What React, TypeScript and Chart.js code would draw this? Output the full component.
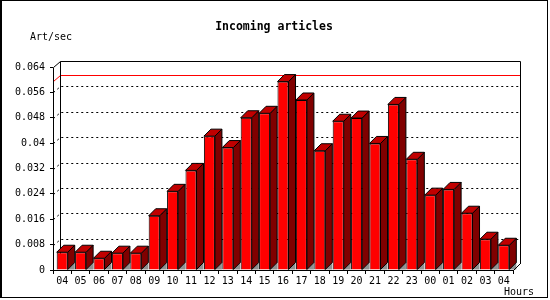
import React, { useEffect, useRef } from "react";
import { Chart, registerables } from "chart.js";

Chart.register(...registerables);

const hours = ["04","05","06","07","08","09","10","11","12","13","14","15","16","17","18","19","20","21","22","23","00","01","02","03","04"];
const artPerSec = [0.0056,0.0056,0.0037,0.0053,0.0053,0.0171,0.0248,0.0314,0.0422,0.0386,0.0480,0.0494,0.0594,0.0536,0.0376,0.0469,0.0479,0.0399,0.0522,0.0349,0.0236,0.0254,0.0179,0.0097,0.0078];
const yTicks = [0,0.008,0.016,0.024,0.032,0.04,0.048,0.056,0.064];
const yTickLabels = ["0","0.008","0.016","0.024","0.032","0.04","0.048","0.056","0.064"];
const peakLine = 0.0596;
const titleText = "Incoming articles";
const yTitle = "Art/sec";
const xTitle = "Hours";

const MONO = "'DejaVu Sans Mono', monospace";
const BDX = 7, BDY = 7; // bar depth
const PDX = 7, PDY = 6; // back plane offset

const threeD = {
  id: "threeD",
  beforeDatasetsDraw(chart: any) {
    const ctx = chart.ctx;
    const y = chart.scales.y;
    const ca = chart.chartArea;
    const L = Math.round(ca.left), R = Math.round(ca.right), B = Math.round(ca.bottom);
    ctx.save();
    ctx.lineWidth = 1;
    ctx.strokeStyle = "#000";
    ctx.setLineDash([2, 3]);
    for (let i = 1; i < yTicks.length - 1; i++) {
      const fy = Math.round(y.getPixelForValue(yTicks[i])) + 0.5;
      ctx.beginPath();
      ctx.moveTo(L + 0.5, fy);
      ctx.lineTo(L + PDX + 0.5, fy - PDY);
      ctx.lineTo(R + PDX, fy - PDY);
      ctx.stroke();
    }
    ctx.setLineDash([]);
    const py = Math.round(y.getPixelForValue(peakLine)) + 0.5;
    ctx.strokeStyle = "#ff0000";
    ctx.beginPath();
    ctx.moveTo(L + 0.5, py);
    ctx.lineTo(L + PDX + 0.5, py - PDY);
    ctx.lineTo(R + PDX, py - PDY);
    ctx.stroke();
    const ty = Math.round(y.getPixelForValue(yTicks[yTicks.length - 1])) + 0.5;
    ctx.strokeStyle = "#000";
    ctx.beginPath();
    ctx.moveTo(L + PDX + 0.5, B - PDY);
    ctx.lineTo(L + PDX + 0.5, ty - PDY);
    ctx.lineTo(R + PDX + 0.5, ty - PDY);
    ctx.lineTo(R + PDX + 0.5, B - PDY);
    ctx.stroke();
    ctx.beginPath();
    ctx.moveTo(L + 0.5, B + 0.5);
    ctx.lineTo(L + 0.5, ty);
    ctx.lineTo(L + PDX + 0.5, ty - PDY);
    ctx.stroke();
    ctx.restore();
  },
  afterDatasetsDraw(chart: any) {
    const ctx = chart.ctx;
    const meta = chart.getDatasetMeta(0);
    const ca = chart.chartArea;
    const L = Math.round(ca.left), R = Math.round(ca.right), B = Math.round(ca.bottom);
    ctx.save();
    ctx.lineWidth = 1;
    ctx.strokeStyle = "#000";
    meta.data.forEach((bar: any) => {
      const { x, y, width, base } = bar.getProps(["x", "y", "width", "base"], true);
      const l = x - width / 2, r = x + width / 2;
      ctx.fillStyle = "#909090";
      ctx.beginPath();
      ctx.moveTo(r, base);
      ctx.lineTo(r + BDX, base - BDY);
      ctx.lineTo(r + BDX, base);
      ctx.closePath();
      ctx.fill();
      ctx.fillStyle = "#800000";
      ctx.beginPath();
      ctx.moveTo(r, y);
      ctx.lineTo(r + BDX, y - BDY);
      ctx.lineTo(r + BDX, base - BDY);
      ctx.lineTo(r, base);
      ctx.closePath();
      ctx.fill();
      ctx.stroke();
      ctx.fillStyle = "#c00000";
      ctx.beginPath();
      ctx.moveTo(l, y);
      ctx.lineTo(l + BDX, y - BDY);
      ctx.lineTo(r + BDX, y - BDY);
      ctx.lineTo(r, y);
      ctx.closePath();
      ctx.fill();
      ctx.stroke();
    });
    ctx.beginPath();
    ctx.moveTo(L, B + 0.5);
    ctx.lineTo(R + 0.5, B + 0.5);
    ctx.lineTo(R + PDX + 0.5, B - PDY - 0.5);
    ctx.stroke();
    ctx.restore();
  },
  afterDraw(chart: any) {
    const ctx = chart.ctx;
    ctx.save();
    ctx.fillStyle = "#000";
    ctx.textBaseline = "middle";
    ctx.font = `bold 11.5px ${MONO}`;
    ctx.textAlign = "center";
    ctx.fillText(titleText, 274, 27);
    ctx.font = `10px ${MONO}`;
    ctx.textAlign = "left";
    ctx.fillText(yTitle, 30, 37);
    ctx.textAlign = "right";
    ctx.fillText(xTitle, 534, 292);
    ctx.strokeStyle = "#000";
    ctx.lineWidth = 1;
    ctx.strokeRect(0.5, 0.5, 547, 297);
    ctx.fillRect(0, 0, 2, 298);
    ctx.restore();
  },
};

export default function App() {
  const ref = useRef<HTMLCanvasElement>(null);
  useEffect(() => {
    if (!ref.current) return;
    const chart = new Chart(ref.current, {
      type: "bar",
      data: {
        labels: hours,
        datasets: [
          {
            data: artPerSec,
            backgroundColor: "#ff0000",
            borderColor: "#000000",
            borderWidth: 1,
            barPercentage: 0.6,
            categoryPercentage: 1,
          },
        ],
      },
      options: {
        animation: false,
        responsive: false,
        devicePixelRatio: 1,
        layout: { padding: { left: 0, top: 67, right: 37, bottom: 0 } },
        plugins: { legend: { display: false }, tooltip: { enabled: false }, title: { display: false } },
        scales: {
          x: {
            type: "category",
            offset: true,
            grid: { display: true, drawOnChartArea: false, drawTicks: true, tickLength: 4, offset: true, color: "#000" },
            border: { display: false },
            ticks: { autoSkip: false, maxRotation: 0, color: "#000", padding: 1, font: { family: MONO, size: 10 } },
            afterFit: (s: any) => { s.height = 30; },
          },
          y: {
            min: 0,
            max: 0.064,
            afterBuildTicks: (s: any) => { s.ticks = yTicks.map((v) => ({ value: v })); },
            grid: { display: true, drawOnChartArea: false, drawTicks: true, tickLength: 3, color: "#000" },
            border: { display: false },
            ticks: {
              color: "#000",
              padding: 5,
              font: { family: MONO, size: 10 },
              callback: (_v: any, i: number) => yTickLabels[i],
            },
            afterFit: (s: any) => { s.width = 53; },
          },
        },
      },
      plugins: [threeD],
    });
    return () => chart.destroy();
  }, []);
  return (
    <div style={{ position: "fixed", left: 0, top: 0, width: 550, height: 300, background: "#fff" }}>
      <canvas ref={ref} width={550} height={300} style={{ display: "block", width: 550, height: 300 }} />
    </div>
  );
}
